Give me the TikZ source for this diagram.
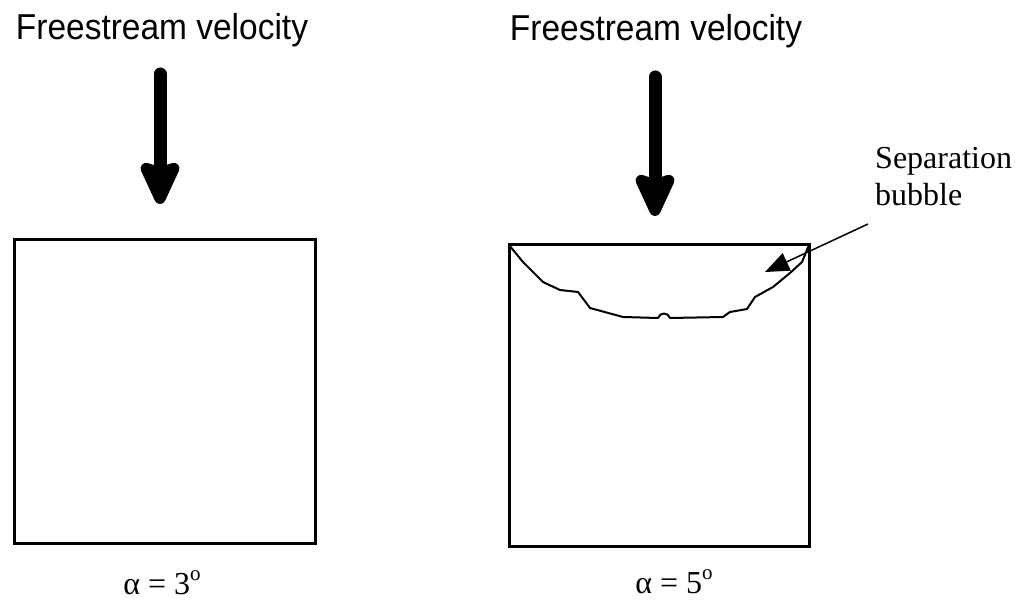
\documentclass[tikz,border=0pt]{standalone}
\usepackage{fontspec}
\setmainfont{Liberation Serif}
\newfontfamily\flowfont{Liberation Sans}
\usetikzlibrary{arrows.meta}
\tikzset{
  flowlabel/.style={font=\flowfont\fontsize{36}{38}\selectfont, inner sep=0pt, anchor=base},
  alphalabel/.style={font=\fontsize{32}{36}\selectfont, inner sep=0pt, anchor=base},
  bubblelabel/.style={font=\fontsize{32}{34}\selectfont, inner sep=0pt, align=left, anchor=base west},
  plate/.style={draw, line width=3pt, inner sep=0pt, outer sep=0pt},
  flowarrow/.style={line width=13pt, line cap=round,
    -{Stealth[length=52pt, width=46pt, inset=7pt, round]}},
  leader/.style={line width=1.5pt, -{Triangle[length=24pt, width=19pt]}},
  bubbleline/.style={line width=2pt, line join=round},
}
\newcommand{\dego}{\raisebox{0.42em}{\fontsize{21}{21}\selectfont o}}
\newcommand{\narrow}[1]{\scalebox{0.93}[1]{#1}}
\begin{document}
\begin{tikzpicture}[x=1pt, y=-1pt]
\useasboundingbox (0,0) rectangle (1026,604);

% left panel
\node[flowlabel] (fl1) at (162,40) {\narrow{Freestream velocity}};
\coordinate (a1s) at (160,74);
\coordinate (a1e) at (160,204);
\draw[flowarrow] (a1s) -- (a1e);
\node[plate, minimum width=301pt, minimum height=303pt] (box1) at (164.5,391.5) {};
\node[alphalabel] (al1) at (162,594) {α = 3\dego};

% right panel
\node[flowlabel] (fl2) at (656,41) {\narrow{Freestream velocity}};
\coordinate (a2s) at (655,77);
\coordinate (a2e) at (655,216);
\draw[flowarrow] (a2s) -- (a2e);
\node[plate, minimum width=300pt, minimum height=301pt] (box2) at (659,395.5) {};
\node[alphalabel] (al2) at (674,593) {α = 5\dego};

% separation bubble outline
\draw[bubbleline] (box2.north west)
  -- (523,262) -- (533,272) -- (543,282) -- (560,290) -- (578,292)
  -- (590,308) -- (623,317) -- (658,318)
  .. controls (660,312) and (668,312) .. (670,318)
  -- (723,317) -- (730,312) -- (747,309) -- (755,297) -- (773,287)
  -- (790,273) -- (802,262) -- (box2.north east);

% label with leader
\node[bubblelabel] (sb) at (875,206) {Separation\\[3pt]bubble};
\coordinate (lead) at (868,224);
\coordinate (leadtip) at (765,272);
\draw[leader] (lead) -- (leadtip);
\end{tikzpicture}
\end{document}
